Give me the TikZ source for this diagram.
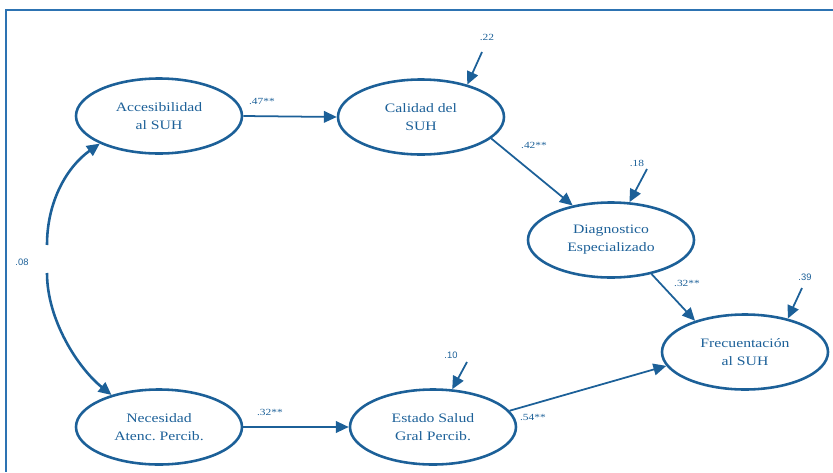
\documentclass[tikz,border=0pt]{standalone}
\usepackage{fontspec}
\newfontfamily\lblfont[FakeStretch=1.22]{Liberation Serif}
\newfontfamily\numfont{Liberation Sans}
\usetikzlibrary{shapes.geometric,arrows.meta}
\definecolor{sembl}{RGB}{28,96,152}
\definecolor{framebl}{RGB}{45,115,178}

\begin{document}
\begin{tikzpicture}[x=0.03cm, y=-0.03cm,
    latent/.style={ellipse, draw=sembl, line width=2.2pt, minimum width=4.98cm, minimum height=2.25cm,
        inner sep=0pt, text=sembl, align=center, font={\lblfont\fontsize{11}{15.3}\selectfont}},
    path/.style={-{Triangle[length=11pt,width=10pt]}, draw=sembl, line width=1.5pt},
    covpath/.style={-{Triangle[length=11pt,width=10pt]}, draw=sembl, line width=2.2pt},
    coef/.style={text=sembl, inner sep=0pt, font={\lblfont\fontsize{8}{9}\selectfont}},
    coefs/.style={text=sembl, inner sep=0pt, font={\numfont\fontsize{8}{9}\selectfont}}]
% [trim to the page of the reference]
    \useasboundingbox (0,0) rectangle (833,472);

    % frame, open on the right and at the bottom
    \draw[framebl, line width=0.08cm] (833,10) -| (6,472);

    % Define the latent variables
    \node[latent] (acc) at (159,116) {Accesibilidad\\al SUH};
    \node[latent] (cal) at (421,117) {Calidad del\\SUH};
    \node[latent] (diag) at (611,240) {Diagnostico\\Especializado};
    \node[latent] (frec) at (745,352) {Frecuentación\\al SUH};
    \node[latent] (nec) at (159,427) {Necesidad\\Atenc.\ Percib.};
    \node[latent] (est) at (433,427) {Estado Salud\\Gral Percib.};

    % free ends of the error and covariance arrows
    \coordinate (e1) at (482,52);
    \coordinate (e2) at (647,169);
    \coordinate (e3) at (802,288);
    \coordinate (e4) at (467,362);
    \coordinate (cu) at (47,245);
    \coordinate (cl) at (47,273);

    % Draw the structural paths
    \draw[path] (acc.east) -- (cal.west);
    \draw[path] (cal.-17) -- (diag.138);
    \draw[path] (diag.-40) -- (frec.148);
    \draw[path] (nec.east) -- (est.west);
    \draw[path] (est.12) -- (frec.190);

    % error terms
    \draw[path] (e1) -- (cal.35);
    \draw[path] (e2) -- (diag.64);
    \draw[path] (e3) -- (frec.38);
    \draw[path] (e4) -- (est.63);

    % covariance, broken round its value
    \draw[covpath] (cu) .. controls (47,200) and (68,166) .. (acc.205);
    \draw[covpath] (cl) .. controls (47,320) and (78,368) .. (nec.146);

    % Label the coefficients
    \node[coef] (c1) at (262,101) {.47**};
    \node[coef] (c2) at (534,145) {.42**};
    \node[coef] (c3) at (687,283) {.32**};
    \node[coef] (c4) at (270,412) {.32**};
    \node[coef] (c5) at (533,417) {.54**};
    \node[coef] (r1) at (487,37) {.22};
    \node[coef] (r2) at (637,163) {.18};
    \node[coefs] (r3) at (805,277) {.39};
    \node[coefs] (r4) at (451,355) {.10};
    \node[coefs] (cv) at (22,262) {.08};

\end{tikzpicture}
\end{document}
